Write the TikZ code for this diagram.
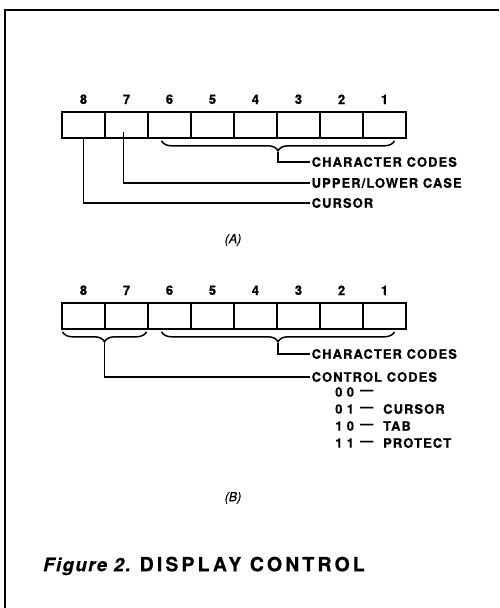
\documentclass[tikz,border=0pt]{standalone}
\usepackage{fontspec}
\setmainfont{TeX Gyre Heros}
\newfontfamily\spaced{TeX Gyre Heros}[LetterSpace=8,FakeBold=0.6]
\newfontfamily\capfont{TeX Gyre Heros}[LetterSpace=16,FakeBold=0.6]
\newfontfamily\numfont{TeX Gyre Heros}[FakeBold=0.6]
\usetikzlibrary{decorations.pathreplacing,calc}

\tikzset{
  bitcell/.style={draw,line width=1.6pt,minimum width=43pt,minimum height=26pt,inner sep=0pt},
  bitnum/.style={font=\numfont\bfseries\fontsize{13}{13}\selectfont,above=7pt,inner sep=0pt},
  lead/.style={line width=1.3pt},
  tag/.style={anchor=west,inner sep=1.5pt,font=\spaced\bfseries\fontsize{13}{13}\selectfont},
  curly/.style={decorate,decoration={brace,mirror,amplitude=10pt},line width=1.5pt},
  sublabel/.style={font=\numfont\itshape\fontsize{12.5}{13}\selectfont,inner sep=0pt},
}

\begin{document}
\begin{tikzpicture}[x=1pt,y=-1pt]
  \useasboundingbox (0,0) rectangle (499,608);
  \draw[line width=2pt] (5,608) -- (5,10) -- (499,10);

  % (A) register
  \foreach \b [count=\k] in {8,...,1} {
    \node[bitcell] (a\b) at ({40.5+43*\k},125) {};
    \node[bitnum] (na\b) at (a\b.north) {\b};
  }
  \coordinate (brA1) at ($(a6.south)+(-8,2)$);
  \coordinate (brA2) at ($(a1.south)+(10,2)$);
  \draw[curly] (brA1) -- (brA2);
  \coordinate (tipA) at ($(brA1)!0.5!(brA2)+(0,11)$);
  \node[tag] (chA) at (310,162) {CHARACTER CODES};
  \node[tag] (ulA) at (310,183) {UPPER/LOWER CASE};
  \node[tag] (cuA) at (310,203) {CURSOR};
  \draw[lead] (tipA) |- (chA.west);
  \draw[lead] ([xshift=-3pt,yshift=7pt]a7.south) |- (ulA.west);
  \draw[lead] ([yshift=2pt]a8.south) |- (cuA.west);
  \node[sublabel] (capA) at (233,240) {(A)};

  % (B) register
  \foreach \b [count=\k] in {8,...,1} {
    \node[bitcell] (b\b) at ({40.5+43*\k},316) {};
    \node[bitnum] (nb\b) at (b\b.north) {\b};
  }
  \coordinate (brB1) at ($(b6.south)+(-8,2)$);
  \coordinate (brB2) at ($(b1.south)+(10,2)$);
  \draw[curly] (brB1) -- (brB2);
  \coordinate (tipB) at ($(brB1)!0.5!(brB2)+(0,11)$);
  \coordinate (brC1) at ($(b8.south)+(-21,2)$);
  \coordinate (brC2) at ($(b7.south)+(20,2)$);
  \draw[curly] (brC1) -- (brC2);
  \coordinate (tipC) at ($(brC1)!0.5!(brC2)+(0,11)$);
  \node[tag] (chB) at (310,354) {CHARACTER CODES};
  \node[tag] (ctB) at (310,377) {CONTROL CODES};
  \draw[lead] (tipB) |- (chB.west);
  \draw[lead] (tipC) |- (ctB.west);
  \foreach \c/\m [count=\r] in {0\,\,0/,0\,\,1/CURSOR,1\,\,0/TAB,1\,\,1/PROTECT} {
    \node[tag] (cd\r) at (333.5,{375+17*\r}) {\c};
    \node[tag] (ds\r) at (358.5,{375+17*\r}) {\textemdash};
    \node[tag] (mn\r) at (381.5,{375+17*\r}) {\m};
  }
  \node[sublabel] (capB) at (233,498) {(B)};

  \node[anchor=west,inner sep=0pt] (fig) at (43,566)
    {{\spaced\bfseries\itshape\fontsize{18.5}{20}\selectfont Figure 2.}\hspace{9pt}{\capfont\bfseries\fontsize{19.5}{20}\selectfont DISPLAY CONTROL}};
\end{tikzpicture}
\end{document}
